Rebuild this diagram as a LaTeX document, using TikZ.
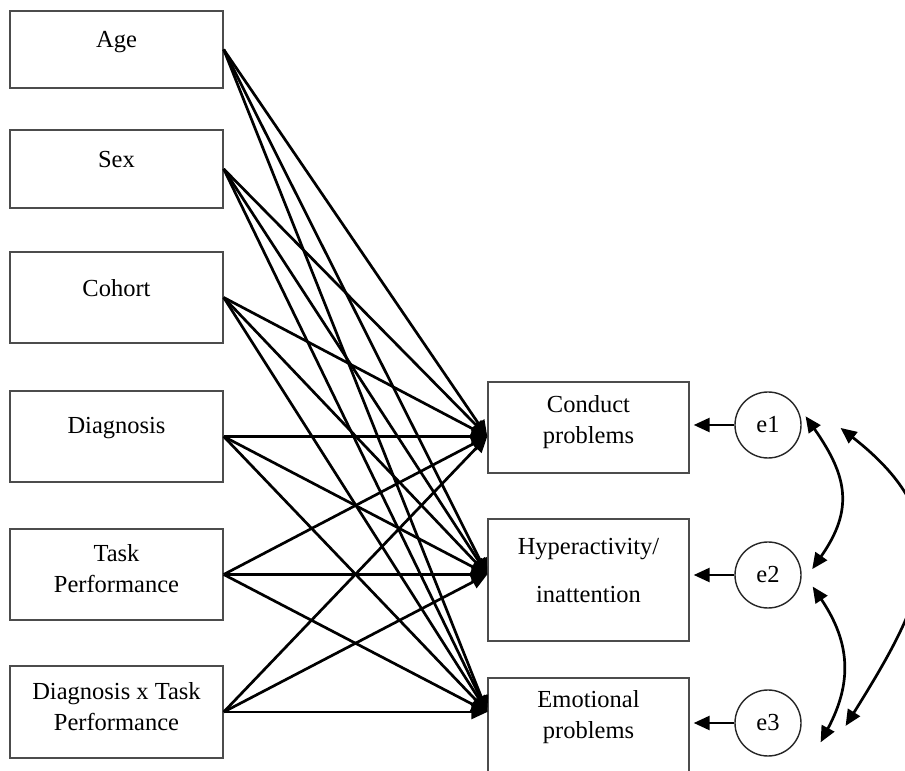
\documentclass[tikz,border=0pt]{standalone}
\usepackage{fontspec}
\setmainfont{Liberation Serif}
\usetikzlibrary{arrows.meta}

\begin{document}
\begin{tikzpicture}[x=1pt,y=1pt,line width=0.4pt,
  varbox/.style={draw=black!70,line width=1.4pt,minimum width=213pt,inner sep=0pt},
  outbox/.style={draw=black!70,line width=1.4pt,minimum width=201pt,inner sep=0pt},
  errc/.style={circle,draw=black!85,line width=1.4pt,minimum size=66pt,inner sep=0pt,font=\fbig},
  lbl/.style={inner sep=0pt,align=center,font=\fbig},
  regarr/.style={line width=2.7pt,-{Triangle[length=16pt,width=14pt]}},
  covarr/.style={line width=2.7pt,{Triangle[length=16pt,width=14pt]}-{Triangle[length=16pt,width=14pt]}}]
\providecommand{\fbig}{\fontsize{24.5}{31}\selectfont}
\useasboundingbox (0,0) rectangle (905,771);
\clip (0,0) rectangle (905,771);
% predictors
\node[varbox,minimum height=77pt] (age) at (116.5,721.5) {};
\node[lbl] (agetxt) at (116.5,729) {Age};
\node[varbox,minimum height=78pt] (sex) at (116.5,602) {};
\node[lbl] (sextxt) at (116.5,611) {Sex};
\node[varbox,minimum height=91pt] (coh) at (116.5,473.5) {};
\node[lbl] (cohtxt) at (116.5,483) {Cohort};
\node[varbox,minimum height=91pt] (diag) at (116.5,334.5) {};
\node[lbl] (diagtxt) at (116.5,343) {Diagnosis};
\node[varbox,minimum height=91pt] (task) at (116.5,196.5) {};
\node[lbl] (tasktxt) at (116.5,202.5) {Task\\Performance};
\node[varbox,minimum height=92pt] (dxt) at (116.5,59) {};
\node[lbl] (dxttxt) at (116.5,64) {Diagnosis x Task\\Performance};
% outcomes
\node[outbox,minimum height=91pt] (cp) at (588.5,343.5) {};
\node[lbl] (cptxt) at (588.5,348.5) {Conduct\\problems};
\node[outbox,minimum height=122pt] (hy) at (588.5,191) {};
\node[lbl] (hytxt) at (588.5,200) {Hyperactivity/\\[17pt]inattention};
\node[outbox,minimum height=112pt] (em) at (588.5,37) {};
\node[lbl] (emtxt) at (588.5,53.5) {Emotional\\problems};
\coordinate (cpin) at (cp.west |- diag.east);
\coordinate (hyin) at (hy.west |- task.east);
\coordinate (emin) at (em.west |- dxt.east);
% errors
\node[errc] (e1) at (768,346) {e1};
\node[errc] (e2) at (768,196) {e2};
\node[errc] (e3) at (768,48) {e3};
% paths
\draw[regarr] (age.east) -- (cpin);
\draw[regarr] (age.east) -- (hyin);
\draw[regarr] (age.east) -- (emin);
\draw[regarr] (sex.east) -- (cpin);
\draw[regarr] (sex.east) -- (hyin);
\draw[regarr] (sex.east) -- (emin);
\draw[regarr] (coh.east) -- (cpin);
\draw[regarr] (coh.east) -- (hyin);
\draw[regarr] (coh.east) -- (emin);
\draw[regarr] (diag.east) -- (cpin);
\draw[regarr] (diag.east) -- (hyin);
\draw[regarr] (diag.east) -- (emin);
\draw[regarr] (task.east) -- (cpin);
\draw[regarr] (task.east) -- (hyin);
\draw[regarr] (task.east) -- (emin);
\draw[regarr] (dxt.east) -- (cpin);
\draw[regarr] (dxt.east) -- (hyin);
\draw[regarr] (dxt.east) -- (emin);
\draw[regarr,shorten >=4pt] (e1) -- (cp.east |- e1);
\draw[regarr,shorten >=4pt] (e2) -- (hy.east |- e2);
\draw[regarr,shorten >=4pt] (e3) -- (em.east |- e3);
% covariances
\draw[covarr] ([xshift=5pt]e1.15) to[out=-55,in=55,looseness=1.22] ([xshift=11pt]e2.10);
\draw[covarr] ([xshift=13pt]e2.-20) to[out=-56,in=62,looseness=1.11] ([xshift=25pt]e3.-35);
\draw[covarr] ([xshift=39pt]e1.-5) to[out=-38,in=58,looseness=1.32] ([xshift=44pt]e3.-5);
\end{tikzpicture}
\end{document}
